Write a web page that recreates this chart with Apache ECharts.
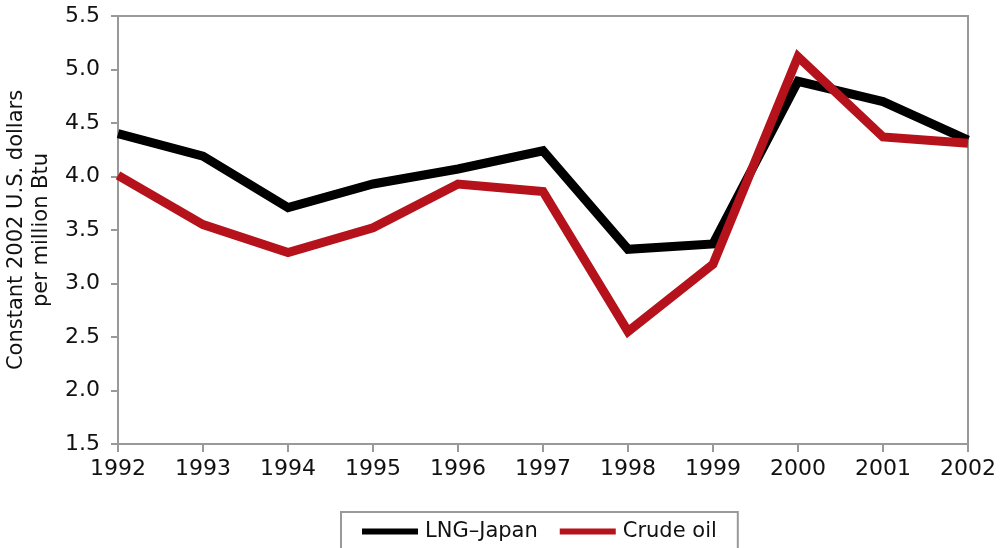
<!DOCTYPE html>
<html>
<head>
<meta charset="utf-8">
<script src="https://cdn.jsdelivr.net/npm/echarts@6/dist/echarts.min.js"></script>
<style>html,body{margin:0;padding:0;background:#fff;}#c{width:1000px;height:548px;}</style>
</head>
<body>
<div id="c"></div>
<script>
const years = ['1992','1993','1994','1995','1996','1997','1998','1999','2000','2001','2002'];
const lngJapan = [4.40, 4.19, 3.71, 3.93, 4.07, 4.24, 3.32, 3.37, 4.89, 4.70, 4.34];
const crudeOil = [4.01, 3.55, 3.29, 3.52, 3.93, 3.86, 2.55, 3.18, 5.12, 4.37, 4.31];
const seriesNames = ['LNG–Japan', 'Crude oil'];
const yAxisTitle = 'Constant 2002 U.S. dollars\nper million Btu';

const FONT = 'DejaVu Sans';
const chart = echarts.init(document.getElementById('c'), null, {renderer: 'canvas'});
chart.setOption({
  animation: false,
  backgroundColor: '#fff',
  textStyle: {fontFamily: FONT},
  grid: {left: 118, right: 32, top: 16, bottom: 104, outerBoundsMode: 'none', containLabel: false,
         show: true, borderColor: '#999', borderWidth: 2, backgroundColor: 'transparent'},
  legend: {
    top: 512, left: 341,
    data: seriesNames,
    icon: 'rect', itemWidth: 56, itemHeight: 6, itemGap: 22,
    borderColor: '#999', borderWidth: 2,
    padding: [9, 21, 12, 21],
    textStyle: {fontFamily: FONT, fontSize: 21, color: '#111', padding: [0, 0, 0, 2]}
  },
  xAxis: {
    type: 'category', data: years, boundaryGap: false,
    axisLine: {lineStyle: {color: '#999', width: 2}},
    axisTick: {show: true, length: 8, lineStyle: {color: '#999', width: 2}},
    axisLabel: {fontFamily: FONT, fontSize: 22, color: '#111', margin: 14},
    splitLine: {show: false}
  },
  yAxis: {
    type: 'value', min: 1.5, max: 5.5, interval: 0.5,
    name: yAxisTitle, nameLocation: 'middle', nameGap: 62, nameRotate: 90,
    nameTextStyle: {fontFamily: FONT, fontSize: 21, color: '#111', lineHeight: 25},
    axisLine: {show: true, lineStyle: {color: '#999', width: 2}},
    axisTick: {show: true, length: 7, lineStyle: {color: '#999', width: 2}},
    axisLabel: {fontFamily: FONT, fontSize: 22, color: '#111', margin: 18, formatter: v => v.toFixed(1)},
    splitLine: {show: false}
  },
  series: [
    {name: seriesNames[0], type: 'line', data: lngJapan, showSymbol: false, symbol: 'none',
     lineStyle: {color: '#000', width: 9, cap: 'butt', join: 'miter'}, itemStyle: {color: '#000'}},
    {name: seriesNames[1], type: 'line', data: crudeOil, showSymbol: false, symbol: 'none',
     lineStyle: {color: '#B5121B', width: 9, cap: 'butt', join: 'miter'}, itemStyle: {color: '#B5121B'}}
  ]
});
</script>
</body>
</html>
